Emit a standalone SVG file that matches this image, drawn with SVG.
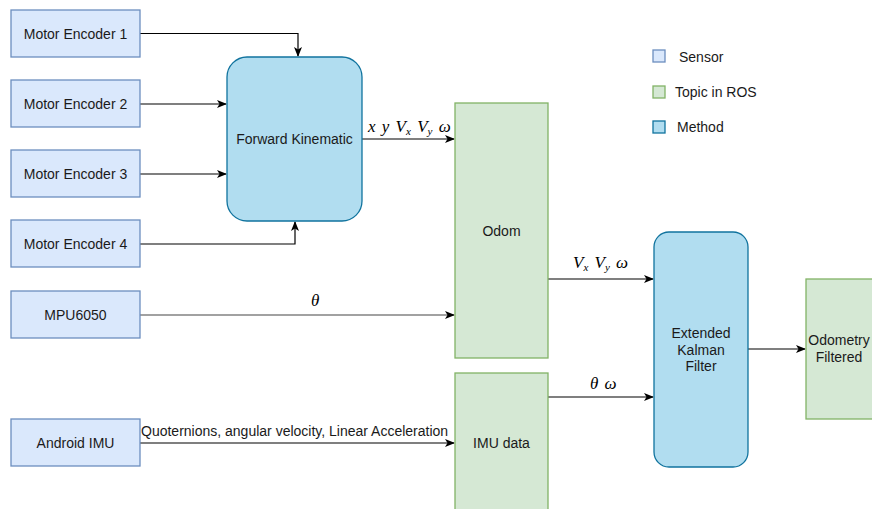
<svg xmlns="http://www.w3.org/2000/svg" width="872" height="509" viewBox="0 0 872 509">
<defs>
<marker id="arr" viewBox="0 0 10 10" refX="9" refY="5" markerWidth="10" markerHeight="10" markerUnits="userSpaceOnUse" orient="auto">
<path d="M0,1 L10,5 L0,9 L2.5,5 Z" fill="#000"/>
</marker>
</defs>
<style>
.sensor{fill:#dae8fc;stroke:#6c8ebf;stroke-width:1.3}
.topic{fill:#d5e8d4;stroke:#82b366;stroke-width:1.3}
.method{fill:#b1ddf0;stroke:#10739e;stroke-width:1.3}
.t{font-family:"Liberation Sans",Arial,sans-serif;font-size:14px;fill:#1a1a1a;text-anchor:middle;dominant-baseline:central}
.lt{font-family:"Liberation Sans",Arial,sans-serif;font-size:14px;fill:#1a1a1a;dominant-baseline:central}
.m{font-family:"Liberation Serif","Times New Roman",serif;font-size:17px;font-style:italic;fill:#000;word-spacing:2px}
.c{fill:none;stroke:#000;stroke-width:1.2;marker-end:url(#arr)}
</style>
<rect width="872" height="509" fill="#fff"/>
<g id="connectors">
<path class="c" d="M140,33.5 H298 V56"/>
<path class="c" d="M140,104 H226"/>
<path class="c" d="M140,174 H226"/>
<path class="c" d="M140,244 H295 V222"/>
<path class="c" d="M362,139 H454"/>
<path class="c" d="M140,315 H454" style="stroke:#444"/>
<path class="c" d="M140,443 H454"/>
<path class="c" d="M548,279 H653"/>
<path class="c" d="M548,397 H653"/>
<path class="c" d="M748,349 H805"/>
<text class="m" x="368" y="132">x y <tspan>V</tspan><tspan font-size="11" dy="3">x</tspan><tspan dy="-3"> V</tspan><tspan font-size="11" dy="3">y</tspan><tspan dy="-3"> ω</tspan></text>
<text class="m" x="311" y="306">θ</text>
<text class="lt" x="141" y="431">Quoternions, angular velocity, Linear Acceleration</text>
<text class="m" x="573" y="268">V<tspan font-size="11" dy="3">x</tspan><tspan dy="-3"> V</tspan><tspan font-size="11" dy="3">y</tspan><tspan dy="-3"> ω</tspan></text>
<text class="m" x="590" y="389">θ ω</text>
</g>
<g id="me1"><rect class="sensor" x="11" y="10" width="129" height="47"/><text class="t" x="75.5" y="33.5">Motor Encoder 1</text></g>
<g id="me2"><rect class="sensor" x="11" y="80" width="129" height="47"/><text class="t" x="75.5" y="103.5">Motor Encoder 2</text></g>
<g id="me3"><rect class="sensor" x="11" y="150" width="129" height="47"/><text class="t" x="75.5" y="173.5">Motor Encoder 3</text></g>
<g id="me4"><rect class="sensor" x="11" y="220" width="129" height="47"/><text class="t" x="75.5" y="243.5">Motor Encoder 4</text></g>
<g id="mpu"><rect class="sensor" x="11" y="291" width="129" height="47"/><text class="t" x="75.5" y="314.5">MPU6050</text></g>
<g id="android"><rect class="sensor" x="11" y="419" width="129" height="47"/><text class="t" x="75.5" y="442.5">Android IMU</text></g>
<g id="fk"><rect class="method" x="227" y="57" width="135" height="164" rx="20" ry="20"/><text class="t" x="294.5" y="139">Forward Kinematic</text></g>
<g id="odom"><rect class="topic" x="455" y="103" width="93" height="255"/><text class="t" x="501.5" y="231">Odom</text></g>
<g id="imudata"><rect class="topic" x="455" y="373" width="93" height="140"/><text class="t" x="501.5" y="443">IMU data</text></g>
<g id="ekf"><rect class="method" x="654" y="232" width="94" height="235" rx="15" ry="15"/><text class="t" x="701" y="333">Extended</text><text class="t" x="701" y="349.5">Kalman</text><text class="t" x="701" y="366">Filter</text></g>
<g id="odomf"><rect class="topic" x="806" y="279" width="70" height="140"/><text class="t" x="839" y="340">Odometry</text><text class="t" x="839" y="357">Filtered</text></g>
<g id="legend">
<rect class="sensor" x="653" y="50" width="12" height="12"/><text class="lt" x="679" y="57">Sensor</text>
<rect class="topic" x="653" y="86" width="12" height="12"/><text class="lt" x="675" y="92">Topic in ROS</text>
<rect class="method" x="653" y="121" width="12" height="12"/><text class="lt" x="677" y="127">Method</text>
</g>
</svg>
